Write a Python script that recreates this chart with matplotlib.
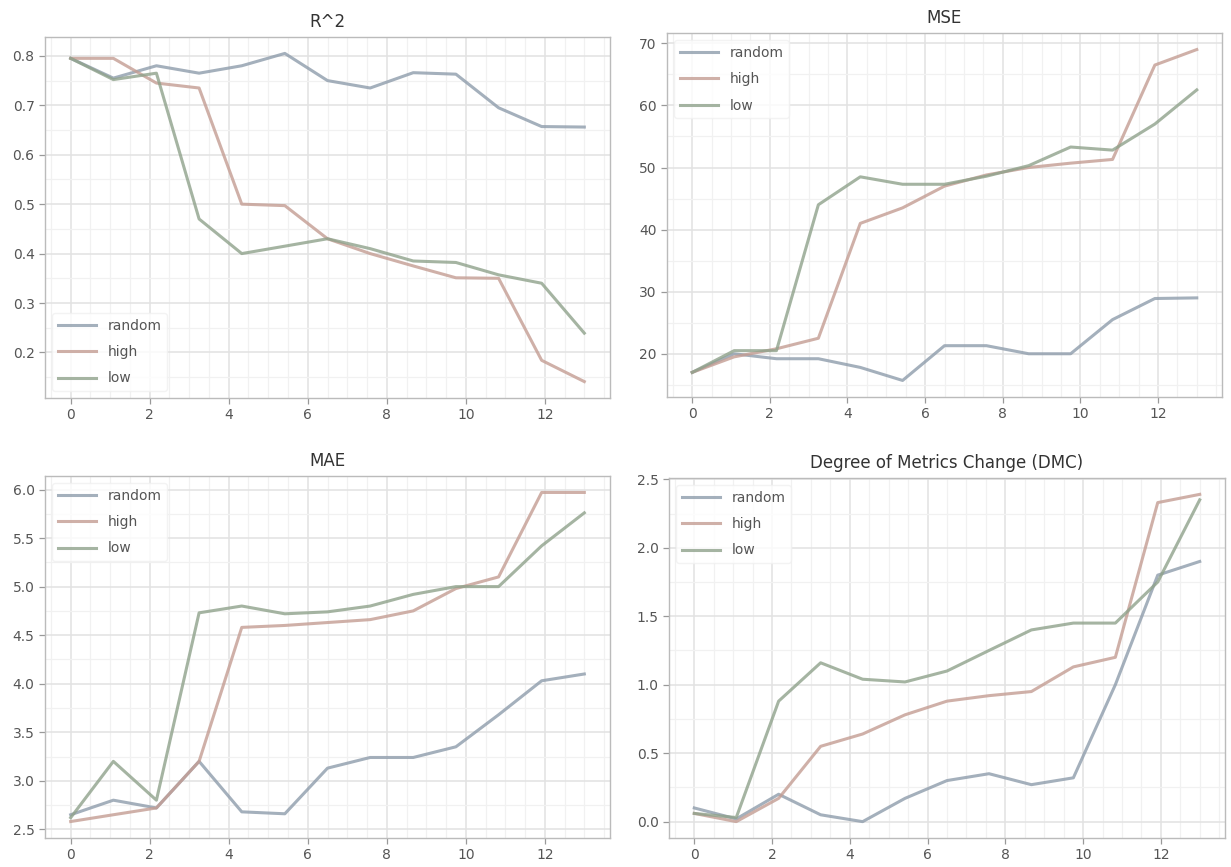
import matplotlib
matplotlib.use("Agg")
import matplotlib.pyplot as plt
from matplotlib.ticker import AutoMinorLocator

# Step positions along the x axis (13 evaluation points spanning 0..13)
steps = [0, 1.08, 2.17, 3.25, 4.33, 5.42, 6.5, 7.58, 8.67, 9.75, 10.83, 11.92, 13]

labels = ["random", "high", "low"]

r2_random = [0.795, 0.755, 0.780, 0.765, 0.780, 0.805, 0.750, 0.735, 0.766, 0.763, 0.695, 0.657, 0.656]
r2_high   = [0.795, 0.795, 0.745, 0.735, 0.500, 0.497, 0.430, 0.400, 0.375, 0.351, 0.350, 0.184, 0.141]
r2_low    = [0.795, 0.752, 0.765, 0.470, 0.400, 0.415, 0.430, 0.410, 0.385, 0.382, 0.357, 0.340, 0.239]

mse_random = [17.0, 20.0, 19.2, 19.2, 17.8, 15.7, 21.3, 21.3, 20.0, 20.0, 25.5, 28.9, 29.0]
mse_high   = [17.0, 19.5, 20.8, 22.5, 41.0, 43.5, 47.0, 48.8, 50.0, 50.7, 51.3, 66.5, 69.0]
mse_low    = [17.0, 20.5, 20.5, 44.0, 48.5, 47.3, 47.3, 48.6, 50.3, 53.3, 52.8, 57.0, 62.5]

mae_random = [2.65, 2.80, 2.72, 3.20, 2.68, 2.66, 3.13, 3.24, 3.24, 3.35, 3.68, 4.03, 4.10]
mae_high   = [2.58, 2.65, 2.72, 3.20, 4.58, 4.60, 4.63, 4.66, 4.75, 4.98, 5.10, 5.97, 5.97]
mae_low    = [2.62, 3.20, 2.80, 4.73, 4.80, 4.72, 4.74, 4.80, 4.92, 5.00, 5.00, 5.42, 5.76]

dmc_random = [0.10, 0.02, 0.20, 0.05, 0.00, 0.17, 0.30, 0.35, 0.27, 0.32, 1.00, 1.80, 1.90]
dmc_high   = [0.06, 0.00, 0.17, 0.55, 0.64, 0.78, 0.88, 0.92, 0.95, 1.13, 1.20, 2.33, 2.39]
dmc_low    = [0.06, 0.03, 0.88, 1.16, 1.04, 1.02, 1.10, 1.25, 1.40, 1.45, 1.45, 1.75, 2.35]

panels = [
    ("R^2", [r2_random, r2_high, r2_low], "lower left"),
    ("MSE", [mse_random, mse_high, mse_low], "upper left"),
    ("MAE", [mae_random, mae_high, mae_low], "upper left"),
    ("Degree of Metrics Change (DMC)", [dmc_random, dmc_high, dmc_low], "upper left"),
]

line_colors = ["#8e9cab", "#c49d93", "#8fa28b"]

W, H = 1231, 867
fig = plt.figure(figsize=(W / 100, H / 100), dpi=100)

# axes boxes in pixels: (left, right, top, bottom)
boxes = [
    (45, 610, 37, 398),
    (667, 1222, 33, 397),
    (45, 610, 476, 838),
    (669, 1225, 478, 838),
]

for (title, series, loc), (l, r, t, b) in zip(panels, boxes):
    ax = fig.add_axes([l / W, 1 - b / H, (r - l) / W, (b - t) / H])
    for vals, lab, col in zip(series, labels, line_colors):
        ax.plot(steps, vals, color=col, lw=2.2, alpha=0.8, label=lab)
    ax.set_title(title, fontsize=12, color="#333333", pad=7)
    ax.set_xticks([0, 2, 4, 6, 8, 10, 12])
    ax.xaxis.set_minor_locator(AutoMinorLocator(4))
    ax.yaxis.set_minor_locator(AutoMinorLocator(2))
    ax.grid(True, which="major", color="#e2e2e2", lw=1.1)
    ax.grid(True, which="minor", color="#f1f1f1", lw=0.9)
    ax.set_axisbelow(True)
    ax.tick_params(which="major", direction="out", length=4, width=0.9,
                   color="#999999", labelsize=10, labelcolor="#555555")
    ax.tick_params(which="minor", length=0)
    for sp in ax.spines.values():
        sp.set_color("#bbbbbb")
        sp.set_linewidth(1.0)
    leg = ax.legend(loc=loc, fontsize=10, handlelength=2.8, labelspacing=0.9,
                    frameon=True, framealpha=0.8, edgecolor="#f0f0f0")
    for txt in leg.get_texts():
        txt.set_color("#555555")

fig.savefig("out.png", dpi=100, facecolor="white")
